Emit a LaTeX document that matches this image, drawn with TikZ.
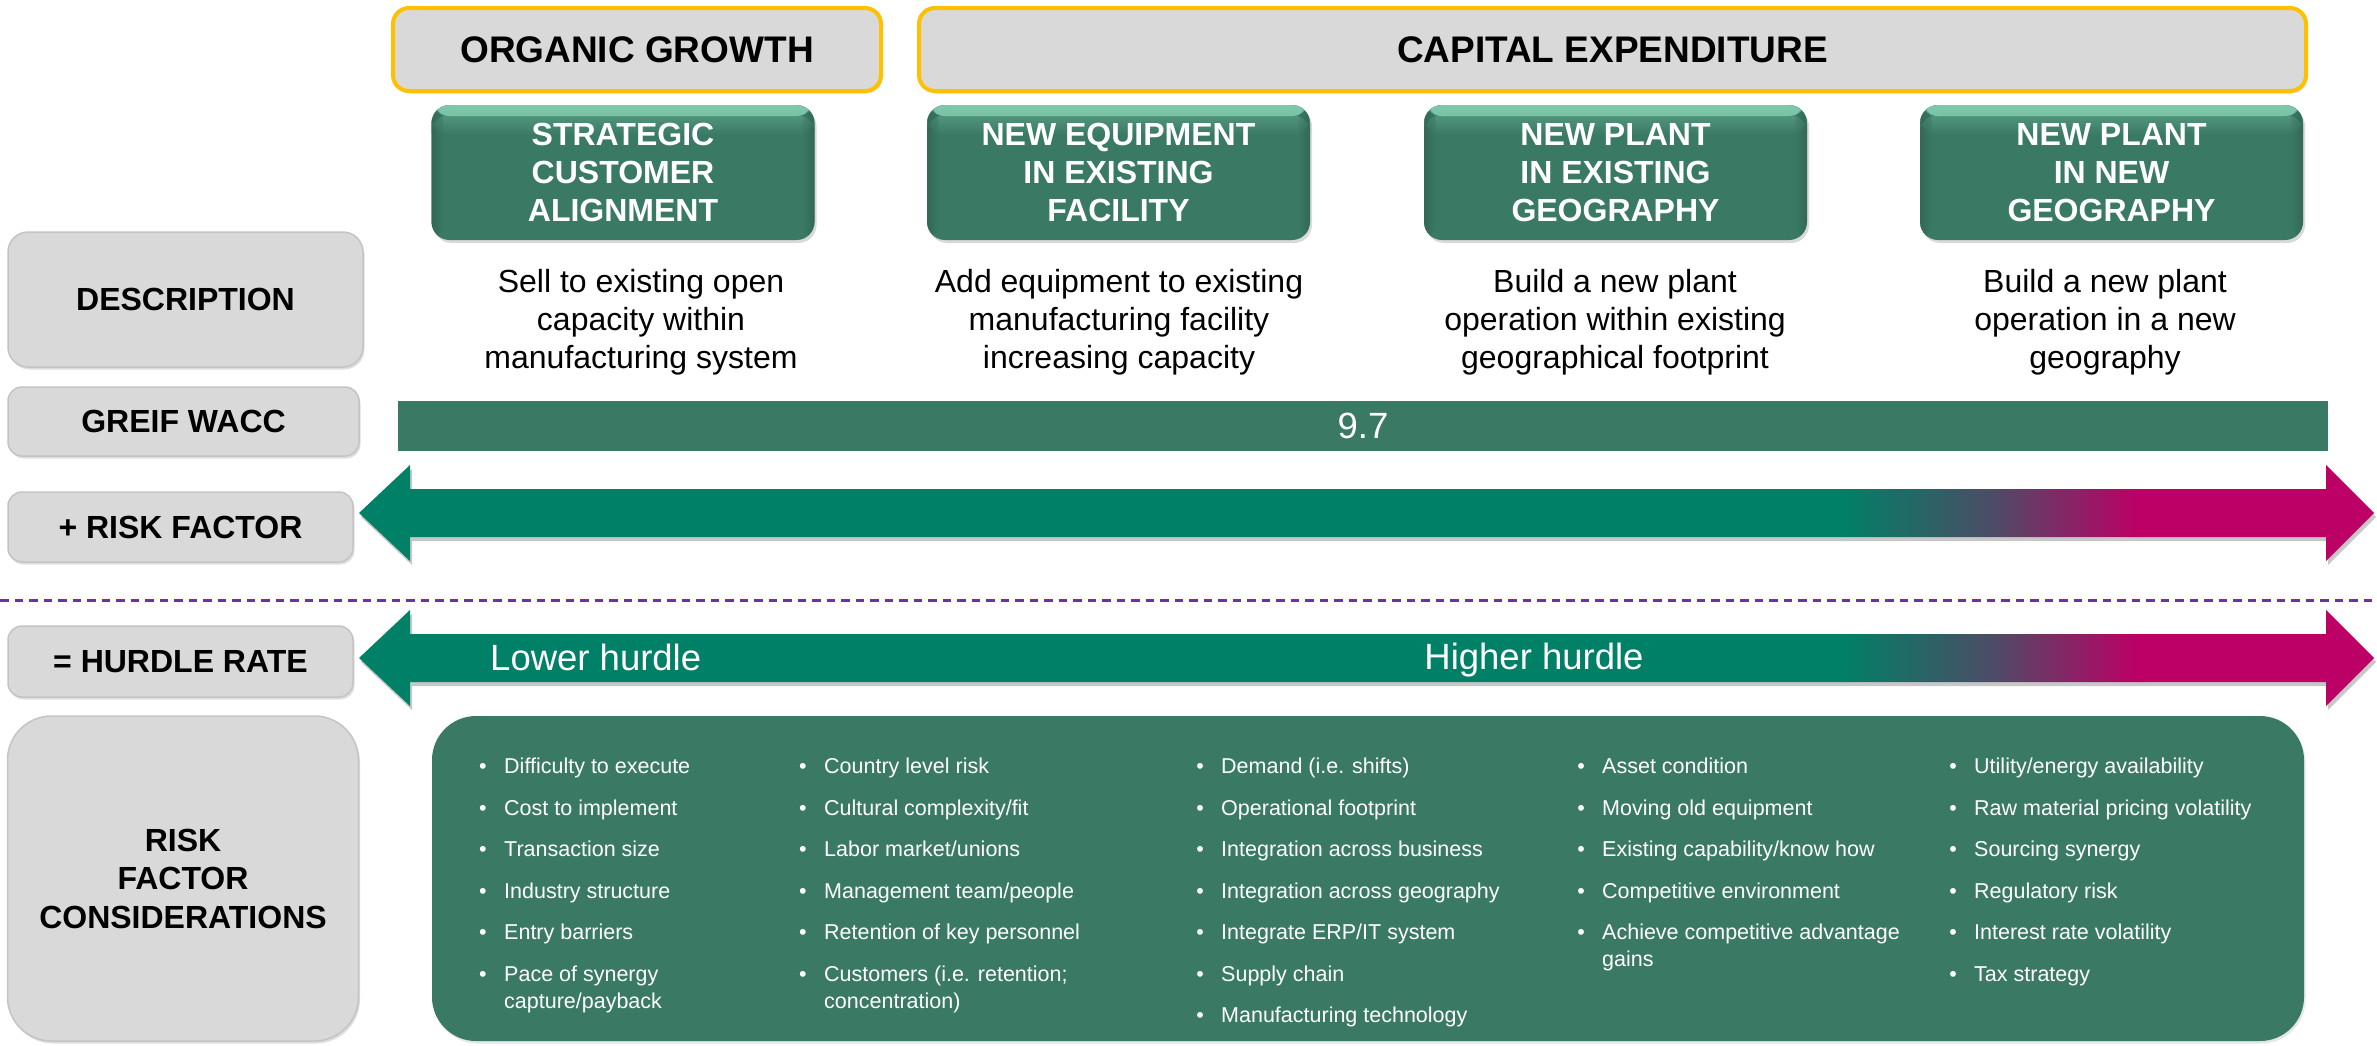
\documentclass[tikz,border=0pt]{standalone}
\usepackage{fontspec}
\setmainfont{Liberation Sans}
\usetikzlibrary{shadows}
\definecolor{lgray}{HTML}{D9D9D9}
\definecolor{bgray}{HTML}{C4C4C4}
\definecolor{gold}{HTML}{FFC000}
\definecolor{dgreen}{HTML}{3A7A64}
\definecolor{hgreen}{HTML}{7FC8AC}
\definecolor{agreen}{HTML}{008066}
\definecolor{mag}{HTML}{BC0066}
\definecolor{midc}{HTML}{4B4D66}
\definecolor{purp}{HTML}{7030A0}
\newcommand\dblarrow[1]{(359,#1) -- (410,#1-48) -- (410,#1-24) -- (2326,#1-24) -- (2326,#1-48) -- (2374,#1) -- (2326,#1+48) -- (2326,#1+24) -- (410,#1+24) -- (410,#1+48) -- cycle}
\newcommand\bitem[4]{%
  \node[bdot] (#1d) at (#2,#3+6.5) {\textbullet};
  \node[btext] (#1) at (#2+21,#3-12.4) {#4};}
\begin{document}
\begin{tikzpicture}[x=1pt,y=-1pt,
  lshadow/.style={drop shadow={shadow xshift=1.5pt,shadow yshift=-2.5pt,opacity=0.25}},
  labelbox/.style={draw=bgray,line width=1.5,fill=lgray,rounded corners=20,
     font=\fontsize{32}{38.5}\selectfont\bfseries,align=center,inner sep=0,lshadow},
  topbox/.style={draw=gold,line width=4,fill=lgray,rounded corners=16,
     font=\fontsize{37}{44}\selectfont\bfseries,inner sep=0,lshadow},
  greenhead/.style={fill=dgreen,rounded corners=18,minimum width=383,minimum height=135,
     text=white,font=\fontsize{32}{38}\selectfont\bfseries,align=center,inner sep=0,
     drop shadow={shadow xshift=2pt,shadow yshift=-3pt,opacity=0.3},
     path picture={\shade[top color=hgreen,bottom color=dgreen]
        (path picture bounding box.north west) rectangle ([yshift=-11pt]path picture bounding box.north east);
        \shade[top color=hgreen,bottom color=dgreen,opacity=0.35]
        ([yshift=-10pt]path picture bounding box.north west) rectangle ([yshift=-30pt]path picture bounding box.north east);
        \shade[left color=black!40!dgreen,right color=dgreen,opacity=0.35]
        (path picture bounding box.north west) rectangle ([xshift=12pt]path picture bounding box.south west);
        \shade[right color=black!40!dgreen,left color=dgreen,opacity=0.35]
        (path picture bounding box.north east) rectangle ([xshift=-12pt]path picture bounding box.south east);}},
  desctext/.style={align=center,inner sep=0,font=\fontsize{32}{38}\selectfont},
  btext/.style={anchor=north west,inner sep=0,align=left,text=white,font=\fontsize{21.5}{27}\selectfont},
  bdot/.style={anchor=base,inner sep=0,text=white,font=\fontsize{21.5}{27}\selectfont},
  bigwhite/.style={inner sep=0,text=white,font=\fontsize{36.5}{42}\selectfont}]
\useasboundingbox (0,0) rectangle (2377,1045);

% top headers
\node[topbox,minimum width=488,minimum height=83] (og) at (637,49.5) {ORGANIC GROWTH};
\node[topbox,minimum width=1387,minimum height=83] (ce) at (1612.5,49.5) {CAPITAL EXPENDITURE};

% green column headers
\node[greenhead] (h1) at (623,172.5) {STRATEGIC\\CUSTOMER\\ALIGNMENT};
\node[greenhead] (h2) at (1118.5,172.5) {NEW EQUIPMENT\\IN EXISTING\\FACILITY};
\node[greenhead] (h3) at (1615.5,172.5) {NEW PLANT\\IN EXISTING\\GEOGRAPHY};
\node[greenhead] (h4) at (2111.5,172.5) {NEW PLANT\\IN NEW\\GEOGRAPHY};

% left labels
\node[labelbox,minimum width=355,minimum height=135] (ldesc) at (185.5,299.5) {DESCRIPTION};
\node[labelbox,minimum width=351,minimum height=69,rounded corners=14] (lwacc) at (183.5,421.5) {GREIF WACC};
\node[labelbox,minimum width=345,minimum height=70,rounded corners=14] (lrisk) at (180.5,527) {+ RISK FACTOR};
\node[labelbox,minimum width=345,minimum height=71,rounded corners=14] (lhurdle) at (180.5,661.5) {= HURDLE RATE};
\node[labelbox,minimum width=351,minimum height=325,rounded corners=44] (lcons) at (183,878.5) {RISK\\FACTOR\\CONSIDERATIONS};

% descriptions
\node[desctext] (d1) at (641,322.4) {\strut Sell to existing open\\\strut capacity within\\\strut manufacturing system};
\node[desctext] (d2) at (1119,322.4) {\strut Add equipment to existing\\\strut manufacturing facility\\\strut increasing capacity};
\node[desctext] (d3) at (1615,322.4) {\strut Build a new plant\\\strut operation within existing\\\strut geographical footprint};
\node[desctext] (d4) at (2105,322.4) {\strut Build a new plant\\\strut operation in a new\\\strut geography};

% WACC bar
\node[fill=dgreen,minimum width=1930,minimum height=50,inner sep=0,text=white,
      font=\fontsize{36.5}{42}\selectfont] (wacc) at (1363,426) {9.7};

% risk factor arrow
\fill[black,opacity=0.22,xshift=2pt,yshift=-4pt] \dblarrow{513};
\begin{scope}
  \clip \dblarrow{513};
  \fill[agreen] (350,455) rectangle (1843,575);
  \shade[left color=agreen,right color=mag,middle color=midc] (1842,455) rectangle (2139,575);
  \fill[mag] (2138,455) rectangle (2380,575);
\end{scope}

% dashed separator
\draw[purp,line width=3,dash pattern=on 8.5 off 6] (0,600) -- (2377,600);

% hurdle arrow
\fill[black,opacity=0.22,xshift=2pt,yshift=-4pt] \dblarrow{658};
\begin{scope}
  \clip \dblarrow{658};
  \fill[agreen] (350,600) rectangle (1843,720);
  \shade[left color=agreen,right color=mag,middle color=midc] (1842,600) rectangle (2139,720);
  \fill[mag] (2138,600) rectangle (2380,720);
\end{scope}
\node[bigwhite,anchor=base west] (lower) at (490,670) {Lower hurdle};
\node[bigwhite,anchor=base] (higher) at (1534,669) {Higher hurdle};

% considerations box
\node[fill=dgreen,rounded corners=44,minimum width=1872,minimum height=325,inner sep=0,
      drop shadow={shadow xshift=1.5pt,shadow yshift=-2.5pt,opacity=0.2}] (cons) at (1368,878.5) {};

% column 1
\bitem{a1}{483}{767}{\strut Difficulty to execute}
\bitem{a2}{483}{808.5}{\strut Cost to implement}
\bitem{a3}{483}{850}{\strut Transaction size}
\bitem{a4}{483}{891.5}{\strut Industry structure}
\bitem{a5}{483}{933}{\strut Entry barriers}
\bitem{a6}{483}{974.5}{\strut Pace of synergy\\\strut capture/payback}
% column 2
\bitem{b1}{803}{767}{\strut Country level risk}
\bitem{b2}{803}{808.5}{\strut Cultural complexity/fit}
\bitem{b3}{803}{850}{\strut Labor market/unions}
\bitem{b4}{803}{891.5}{\strut Management team/people}
\bitem{b5}{803}{933}{\strut Retention of key personnel}
\bitem{b6}{803}{974.5}{\strut Customers (i.e. retention;\\\strut concentration)}
% column 3
\bitem{c1}{1200}{767}{\strut Demand (i.e. shifts)}
\bitem{c2}{1200}{808.5}{\strut Operational footprint}
\bitem{c3}{1200}{850}{\strut Integration across business}
\bitem{c4}{1200}{891.5}{\strut Integration across geography}
\bitem{c5}{1200}{933}{\strut Integrate ERP/IT system}
\bitem{c6}{1200}{974.5}{\strut Supply chain}
\bitem{c7}{1200}{1016}{\strut Manufacturing technology}
% column 4
\bitem{e1}{1581}{767}{\strut Asset condition}
\bitem{e2}{1581}{808.5}{\strut Moving old equipment}
\bitem{e3}{1581}{850}{\strut Existing capability/know how}
\bitem{e4}{1581}{891.5}{\strut Competitive environment}
\bitem{e5}{1581}{933}{\strut Achieve competitive advantage\\\strut gains}
% column 5
\bitem{f1}{1953}{767}{\strut Utility/energy availability}
\bitem{f2}{1953}{808.5}{\strut Raw material pricing volatility}
\bitem{f3}{1953}{850}{\strut Sourcing synergy}
\bitem{f4}{1953}{891.5}{\strut Regulatory risk}
\bitem{f5}{1953}{933}{\strut Interest rate volatility}
\bitem{f6}{1953}{974.5}{\strut Tax strategy}
\end{tikzpicture}
\end{document}
